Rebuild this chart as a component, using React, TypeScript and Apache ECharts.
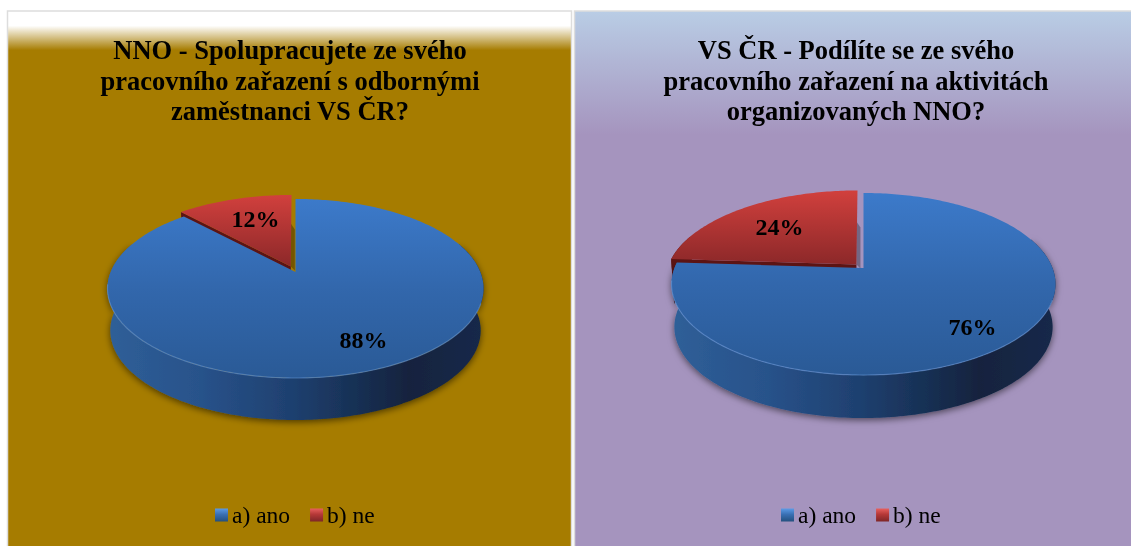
import React, { useEffect, useRef } from "react";
import * as echarts from "echarts";

const categories = ["a) ano", "b) ne"];
const nnoValues = [88, 12];
const vsValues = [76, 24];
const nnoTitle = "NNO - Spolupracujete ze svého\npracovního zařazení s odbornými\nzaměstnanci VS ČR?";
const vsTitle = "VS ČR - Podílíte se ze svého\npracovního zařazení na aktivitách\norganizovaných NNO?";

const SERIF = "'Liberation Serif', 'Times New Roman', serif";
const W = 1131;
const H = 546;

type Geo = {
  cx: number; vy: number; w: number; h: number; k: number; depth: number; explode: number;
  labels: number[][];
};
const nnoGeo: Geo = { cx: 295.5, vy: 272, w: 184.8, h: 86.5, k: 0.184, depth: 42, explode: 0.07, labels: [[68, 68], [-40, -53]] };
const vsGeo: Geo = { cx: 863.5, vy: 268, w: 189, h: 88.2, k: 0.176, depth: 43, explode: 0.055, labels: [[109, 59], [-84, -41]] };

const rad = (d: number) => (d * Math.PI) / 180;
const grad = (x2: number, y2: number, stops: [number, string][]) =>
  new echarts.graphic.LinearGradient(0, 0, x2, y2, stops.map(([offset, color]) => ({ offset, color })));

function project(g: Geo, deg: number, r = 1, ox = 0, oy = 0): number[] {
  const X = Math.sin(rad(deg)) * r + ox;
  const Y = Math.cos(rad(deg)) * r + oy;
  const d = 1 + g.k * Y;
  return [g.cx + (g.w * X) / d, g.vy - (g.h * Y) / d];
}
const drop = (g: Geo, p: number[]) => [g.cx + (p[0] - g.cx) * 0.985, p[1] + g.depth];

function arc(g: Geo, a0: number, a1: number, ox = 0, oy = 0) {
  const pts: number[][] = [];
  const n = Math.max(2, Math.ceil(a1 - a0));
  for (let i = 0; i <= n; i++) pts.push(project(g, a0 + ((a1 - a0) * i) / n, 1, ox, oy));
  return pts;
}

function sliceSeries(name: string, values: number[], idx: number, g: Geo) {
  const blue = idx === 0;
  return {
    type: "custom",
    name,
    coordinateSystem: "none",
    silent: true,
    clip: false,
    data: [values[idx]],
    itemStyle: { color: blue ? "#3A75BF" : "#C43C3A" },
    renderItem: (_p: any, api: any) => {
      const total = values.reduce((a, b) => a + b, 0);
      const before = values.slice(0, idx).reduce((a, b) => a + b, 0);
      const a0 = (before / total) * 360;
      const a1 = a0 + (api.value(0) / total) * 360;
      const mid = rad((a0 + a1) / 2);
      const e = blue ? 0 : g.explode;
      const ox = Math.sin(mid) * e;
      const oy = Math.cos(mid) * e;
      const v = project(g, 0, 0, ox, oy);
      const rim = arc(g, a0, a1, ox, oy);
      const children: any[] = [];
      // outer wall, front part of the rim only
      const f0 = Math.max(a0, 70);
      const f1 = Math.min(a1, 290);
      if (f1 > f0) {
        const top = arc(g, f0, f1, ox, oy);
        const bottom = top.map((p) => drop(g, p)).reverse();
        children.push({
          type: "polygon",
          shape: { points: [...top, ...bottom] },
          style: {
            fill: blue
              ? grad(1, 0, [[0, "#2F5F98"], [0.25, "#28528A"], [0.5, "#1E3F6E"], [0.8, "#12233E"], [1, "#17294A"]])
              : "#5C1414",
            shadowBlur: blue ? 7 : 0,
            shadowColor: "rgba(0,0,0,0.55)",
            shadowOffsetY: 2,
          },
        });
      }
      if (!blue) {
        // cut wall of the pulled-out slice, and its shade on the gap
        const tip = rim[0];
        const wall = [tip, v, drop(g, v), drop(g, tip)];
        children.push({ type: "polygon", shape: { points: wall }, style: { fill: "#5C1414" } });
        children.push({
          type: "polygon",
          shape: { points: [[v[0], v[1] - 43], [v[0] + 4, v[1] - 37], [v[0] + 4, v[1] + 4], [v[0], v[1]]] },
          style: { fill: "rgba(0,0,0,0.3)" },
        });
      }
      children.push({
        type: "polygon",
        shape: { points: [v, ...rim] },
        style: {
          fill: blue
            ? grad(0, 1, [[0, "#3C7ACA"], [0.5, "#3267AC"], [1, "#2A5A96"]])
            : grad(0, 1, [[0, "#D1403D"], [1, "#8C2829"]]),
        },
      });
      if (blue) {
        children.push({
          type: "polyline",
          shape: { points: arc(g, 110, 262) },
          style: { stroke: "rgba(110,160,225,0.5)", lineWidth: 1.2, fill: "none" },
        });
      }
      const lab = g.labels[idx];
      children.push({
        type: "text",
        x: g.cx + lab[0],
        y: g.vy + lab[1],
        style: {
          text: `${api.value(0)}%`,
          fill: "#000",
          fontFamily: SERIF,
          fontWeight: "bold",
          fontSize: 24,
          align: "center",
          verticalAlign: "middle",
        },
      });
      return { type: "group", children };
    },
  };
}

const legendItems = [
  { name: categories[0], itemStyle: { color: grad(0, 1, [[0, "#5C9BE6"], [0.45, "#3A70B4"], [1, "#24507F"]]) } },
  { name: categories[1], itemStyle: { color: grad(0, 1, [[0, "#E8605E"], [0.45, "#B53837"], [1, "#7E2627"]]) } },
];
const legendOf = (left: number) => ({
  left,
  top: 498,
  orient: "horizontal",
  selectedMode: false,
  itemWidth: 13,
  itemHeight: 13,
  itemGap: 20,
  icon: "rect",
  data: legendItems,
  textStyle: { fontFamily: SERIF, fontSize: 23.5, color: "#000", padding: [0, 0, 0, -1] },
});
const titleOf = (text: string, left: number) => ({
  text,
  left,
  top: 30,
  textAlign: "center",
  textStyle: { fontFamily: SERIF, fontWeight: "bold", fontSize: 26.5, lineHeight: 30.5, color: "#000" },
});

export default function App() {
  const ref = useRef<HTMLDivElement>(null);
  useEffect(() => {
    const chart = echarts.init(ref.current!, undefined, { renderer: "svg" });
    chart.setOption({
      animation: false,
      backgroundColor: "#fff",
      graphic: [
        {
          type: "rect",
          z: -10,
          shape: { x: 7.5, y: 11, width: 564, height: 540 },
          style: {
            stroke: "#DDDDDD",
            lineWidth: 1.5,
            fill: new echarts.graphic.LinearGradient(0, 11, 0, 60, [
              { offset: 0, color: "#FFFFFF" },
              { offset: 0.3, color: "#FFFFFF" },
              { offset: 0.8, color: "#A67C00" },
              { offset: 1, color: "#A67C00" },
            ], true),
          },
        },
        {
          type: "rect",
          z: -10,
          shape: { x: 574.5, y: 11, width: 562, height: 540 },
          style: {
            stroke: "#DDDDDD",
            lineWidth: 1.5,
            fill: new echarts.graphic.LinearGradient(0, 11, 0, 135, [
              { offset: 0, color: "#B9CDE5" },
              { offset: 1, color: "#A594BE" },
            ], true),
          },
        },
      ],
      title: [titleOf(nnoTitle, 285), titleOf(vsTitle, 851)],
      legend: [legendOf(210), legendOf(776)],
      series: [
        sliceSeries(categories[1], nnoValues, 1, nnoGeo),
        sliceSeries(categories[0], nnoValues, 0, nnoGeo),
        sliceSeries(categories[1], vsValues, 1, vsGeo),
        sliceSeries(categories[0], vsValues, 0, vsGeo),
      ],
    });
    return () => chart.dispose();
  }, []);
  return <div ref={ref} style={{ position: "fixed", left: 0, top: 0, width: W, height: H, filter: "blur(0.4px)" }} />;
}
